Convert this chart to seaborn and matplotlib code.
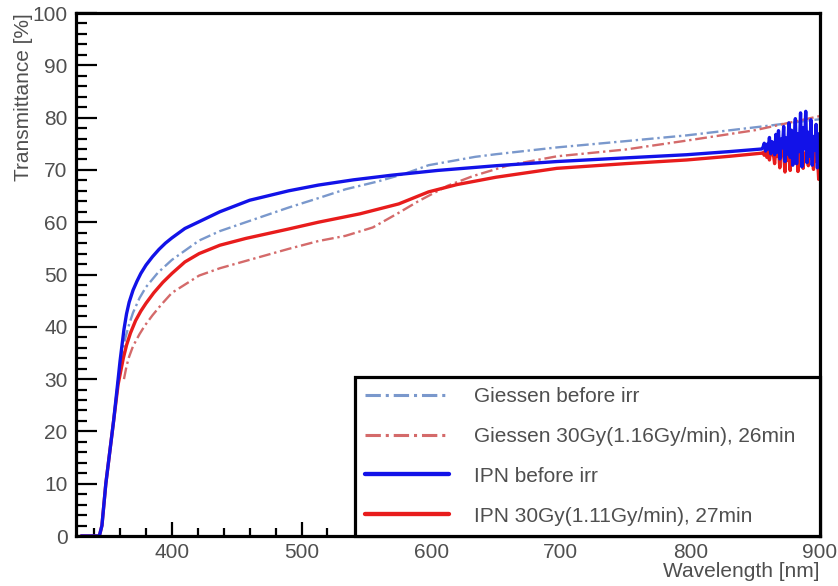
import matplotlib
matplotlib.use("Agg")
import matplotlib.pyplot as plt
import numpy as np
import pandas as pd
import seaborn as sns

# ---------------- data ----------------
ipn_before_wl = [330, 344, 346, 349, 352, 355, 358.5, 360, 361.5, 363, 365, 367, 370, 373, 376, 380,
                 385, 390, 395, 400, 410, 421, 437, 460, 490, 513, 540, 570, 605, 650, 697, 750,
                 797, 830, 855]
ipn_before_T = [0, 0, 2, 10, 16, 22, 30, 33.5, 36.5, 39.5, 42.5, 44.7, 47.0, 48.7, 50.2, 51.8,
                53.4, 54.8, 56.0, 57.0, 58.8, 60.1, 62.0, 64.2, 66.0, 67.1, 68.1, 69.0, 69.9, 70.8, 71.6, 72.3,
                72.9, 73.5, 74.0]
ipn_before_noise_wl = list(range(856, 901))
ipn_before_noise_T = [74.3, 75.1, 73.6, 74.9, 74.0, 76.2, 73.1, 75.4, 74.6, 72.9,
                      76.8, 73.4, 77.5, 72.1, 75.9, 74.2, 78.3, 71.6, 76.1, 73.0,
                      79.0, 72.4, 77.6, 70.9, 75.3, 79.8, 71.2, 76.9, 73.5, 80.9,
                      70.6, 78.1, 74.0, 81.2, 71.4, 77.2, 72.6, 79.6, 70.9, 76.4,
                      73.8, 78.7, 70.4, 76.9, 72.3]

ipn_irr_wl = [330, 344, 346, 349, 352, 355, 358.5, 360.5, 362.5, 365, 368, 372, 376, 380, 386, 393,
              400, 410, 421, 437, 457, 490, 513, 545, 575, 598, 620, 650, 697, 750, 797, 830, 855]
ipn_irr_T = [0, 0, 2, 10, 16, 22, 29, 31.5, 34, 36.5, 38.8, 41.2, 43.0, 44.5, 46.5, 48.5,
             50.2, 52.4, 54.0, 55.6, 56.9, 58.7, 60.0, 61.6, 63.5, 65.8, 67.2, 68.6, 70.3, 71.2, 71.9,
             72.6, 73.2]
ipn_irr_noise_wl = list(range(856, 901))
ipn_irr_noise_T = [73.3, 72.8, 73.9, 72.4, 73.6, 71.9, 74.1, 72.9, 73.2, 71.2,
                   74.2, 72.6, 73.9, 70.4, 74.0, 72.9, 73.1, 69.6, 74.3, 71.8,
                   73.7, 69.9, 74.4, 72.1, 73.3, 71.3, 74.1, 69.7, 73.6, 72.6,
                   74.5, 70.3, 73.2, 72.9, 74.1, 70.8, 73.9, 72.2, 73.4, 70.1,
                   74.2, 71.6, 72.9, 68.2, 73.6]

giessen_before_wl = [358, 360, 362, 364, 367, 370, 375, 380, 389, 400, 421, 437, 457, 490, 513, 534,
                     559, 580, 598, 634, 650, 697, 750, 797, 862, 900]
giessen_before_T = [29, 32, 35, 37.8, 40.5, 42.7, 45.5, 47.6, 50.3, 52.8, 56.5, 58.3, 60.0, 62.8, 64.6,
                    66.3, 67.8, 69.3, 70.9, 72.5, 73.0, 74.3, 75.5, 76.6, 78.5, 79.7]

giessen_irr_wl = [363, 365, 367, 370, 375, 379, 385, 392, 400, 421, 437, 457, 490, 513, 534,
                  555, 575, 590, 613, 632, 660, 697, 750, 797, 850, 900]
giessen_irr_T = [30, 32.5, 34.3, 36.3, 38.6, 40.2, 42.2, 44.3, 46.5, 49.8, 51.2, 52.6, 54.9, 56.4, 57.4,
                 59.0, 61.8, 64.0, 67.0, 68.8, 70.9, 72.6, 73.9, 75.6, 77.6, 80.3]

labels = ["Giessen before irr", "Giessen 30Gy(1.16Gy/min), 26min",
          "IPN before irr", "IPN 30Gy(1.11Gy/min), 27min"]
colors = ["#7a98cc", "#d46a6a", "#1212e8", "#e81c1c"]

x_major = [400, 500, 600, 700, 800, 900]
x_minor = [340, 360, 380, 420, 440, 460, 480, 520]
y_major = [0, 10, 20, 30, 40, 50, 60, 70, 80, 90, 100]

# ---------------- figure ----------------
sns.set_theme(style="white")
plt.rcParams["font.family"] = ["Liberation Sans", "DejaVu Sans"]

fig, ax = plt.subplots(figsize=(8.38, 5.86), dpi=100)
fig.subplots_adjust(left=0.0907, right=0.9785, bottom=0.0853, top=0.9778)

dashdot = (0, (5, 1.6, 1.0, 1.6))

sns.lineplot(x=giessen_before_wl, y=giessen_before_T, ax=ax, color=colors[0], lw=1.7,
             linestyle=dashdot, label=labels[0], estimator=None, errorbar=None)
sns.lineplot(x=giessen_irr_wl, y=giessen_irr_T, ax=ax, color=colors[1], lw=1.7,
             linestyle=dashdot, label=labels[1], estimator=None, errorbar=None)
sns.lineplot(x=ipn_irr_wl + ipn_irr_noise_wl, y=ipn_irr_T + ipn_irr_noise_T, ax=ax,
             color=colors[3], lw=2.4, label=labels[3], estimator=None, errorbar=None)
sns.lineplot(x=ipn_before_wl + ipn_before_noise_wl, y=ipn_before_T + ipn_before_noise_T, ax=ax,
             color=colors[2], lw=2.4, label=labels[2], estimator=None, errorbar=None)

ax.set_xlim(326, 900)
ax.set_ylim(0, 100)
ax.set_xticks(x_major)
ax.set_xticks(x_minor, minor=True)
ax.set_yticks(y_major)
ax.set_yticks(list(range(0, 101, 2)), minor=True)

txt_col = "#4f4f4f"
ax.tick_params(axis="both", which="both", direction="in", top=False, right=False,
               bottom=True, left=True,
               labelcolor=txt_col, labelsize=15, width=1.6, color="black")
ax.tick_params(axis="y", which="major", length=15, pad=6)
ax.tick_params(axis="y", which="minor", length=8)
ax.tick_params(axis="x", which="major", length=10, pad=5)
ax.tick_params(axis="x", which="minor", length=6)

# tick marks under the legend box are hidden in the reference
for tk in ax.xaxis.get_major_ticks():
    if tk.get_loc() >= 600:
        tk.tick1line.set_visible(False)

for sp in ax.spines.values():
    sp.set_visible(True)
    sp.set_color("black")
    sp.set_linewidth(2.3)
    sp.set_zorder(5)

ax.set_ylabel("Transmittance [%]", loc="top", fontsize=15, color=txt_col)
ax.yaxis.set_label_coords(-0.058, 1.0)
ax.set_xlabel("Wavelength [nm]", loc="right", fontsize=15, color=txt_col)
ax.xaxis.set_label_coords(1.0, -0.05)

h, l = ax.get_legend_handles_labels()
order = [l.index(s) for s in labels]
leg = ax.legend([h[i] for i in order], [l[i] for i in order],
                loc="lower left", bbox_to_anchor=(0.375, 0.0, 0.625, 0.312), mode="expand",
                borderaxespad=0, fontsize=15, handlelength=4.0, handletextpad=1.2,
                labelspacing=1.0, borderpad=0.5, frameon=True, fancybox=False,
                edgecolor="black", framealpha=1, facecolor="white")
leg.get_frame().set_linewidth(2.3)
leg.set_zorder(6)
for t in leg.get_texts():
    t.set_color(txt_col)
for lh in leg.get_lines():
    lh.set_linewidth(lh.get_linewidth() * 1.3)

fig.savefig("out.png", dpi=100)
